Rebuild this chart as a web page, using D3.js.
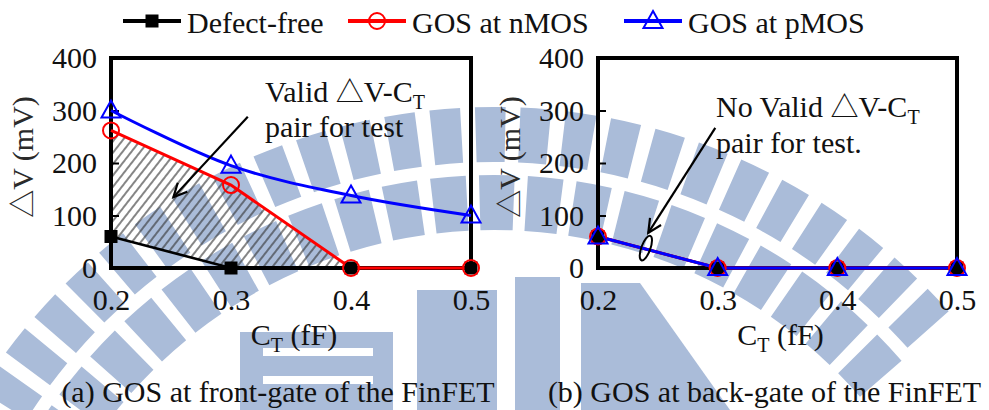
<!DOCTYPE html>
<html>
<head>
<meta charset="utf-8">
<script src="https://cdn.jsdelivr.net/npm/d3@7"></script>
<style>
  body { margin: 0; background: #fff; }
  svg { display: block; }
</style>
</head>
<body>
<svg id="chart" width="989" height="410" font-family="'Liberation Serif', 'DejaVu Serif', serif"></svg>
<script>
// ---- data -------------------------------------------------------------
const categories = [0.2, 0.3, 0.4, 0.5];          // C_T (fF)
const xTickLabels = ["0.2", "0.3", "0.4", "0.5"];
const yTickValues = [0, 100, 200, 300, 400];       // ΔV (mV)

// (a) GOS at the front gate
const frontDefectFree = [60, 0, 0, 0];
const frontNMOS       = [262, 158, 0, 0];
const frontPMOS       = [300, 195, 138, 100];

// (b) GOS at the back gate
const backDefectFree = [60, 0, 0, 0];
const backNMOS       = [60, 0, 0, 0];
const backPMOS       = [60, 0, 0, 0];

const seriesNames = ["Defect-free", "GOS at nMOS", "GOS at pMOS"];
const captions = ["(a) GOS at front-gate of the FinFET", "(b) GOS at back-gate of the FinFET"];

// ---- setup ------------------------------------------------------------
const FONT = "'Liberation Serif', 'DejaVu Serif', serif";
const TRI_FONT = "'Noto Sans CJK SC', 'DejaVu Sans', sans-serif";
const svg = d3.select("#chart");
const W = 989, H = 410;
svg.append("rect").attr("width", W).attr("height", H).attr("fill", "#fff");

const styles = [
  { color: "#000000", marker: "square",   width: 2.6 },
  { color: "#ff0000", marker: "circle",   width: 3 },
  { color: "#0000ff", marker: "triangle", width: 3 }
];

const defs = svg.append("defs");
const hatch = defs.append("pattern")
  .attr("id", "hatch").attr("patternUnits", "userSpaceOnUse")
  .attr("width", 7).attr("height", 7)
  .attr("patternTransform", "rotate(38)");
hatch.append("line").attr("x1", 1).attr("y1", 0).attr("x2", 1).attr("y2", 7)
  .attr("stroke", "#333").attr("stroke-width", 1.2);

// ---- background emblem ------------------------------------------------
const wmColor = "#aabcd9";
const wm = svg.append("g").attr("fill", wmColor).attr("transform", "translate(494,715)");
const arc = d3.arc();
const deg = Math.PI / 180;
for (let a = -62; a < 46; a += 4.3) {
  wm.append("path").attr("d", arc({ innerRadius: 553, outerRadius: 608, startAngle: a * deg, endAngle: (a + 2.9) * deg }));
}
for (let a = -64; a < 50; a += 5.2) {
  wm.append("path").attr("d", arc({ innerRadius: 485, outerRadius: 540, startAngle: a * deg, endAngle: (a + 3.8) * deg }));
}
const wm2 = svg.append("g").attr("fill", wmColor);
wm2.append("rect").attr("x", 240).attr("y", 332).attr("width", 153).attr("height", 78);
wm2.append("rect").attr("x", 263).attr("y", 348).attr("width", 110).attr("height", 8).attr("fill", "#fff");
wm2.append("rect").attr("x", 263).attr("y", 376).attr("width", 110).attr("height", 8).attr("fill", "#fff");
wm2.append("rect").attr("x", 417).attr("y", 290).attr("width", 80).attr("height", 120);
wm2.append("rect").attr("x", 515).attr("y", 277).attr("width", 45).attr("height", 133);
wm2.append("path").attr("d", "M581,283L640,283L730,410L581,410Z");

// ---- helpers ----------------------------------------------------------
function drawMarker(g, kind, color, cx, cy) {
  if (kind === "square") {
    g.append("rect").attr("x", cx - 6.5).attr("y", cy - 6.5).attr("width", 13).attr("height", 13)
      .attr("fill", color);
  } else if (kind === "circle") {
    g.append("circle").attr("cx", cx).attr("cy", cy).attr("r", 8)
      .attr("fill", "none").attr("stroke", color).attr("stroke-width", 2);
  } else {
    g.append("path").attr("d", `M${cx},${cy - 10}L${cx + 9.5},${cy + 7}L${cx - 9.5},${cy + 7}Z`)
      .attr("fill", "none").attr("stroke", color).attr("stroke-width", 2);
  }
}

function label(g, x, y, size) {
  return g.append("text").attr("x", x).attr("y", y)
    .attr("font-family", FONT).attr("font-size", size || 30).attr("fill", "#111");
}

// text with a "△" glyph drawn from a font that carries a full-width triangle
function triText(sel, before, after) {
  if (before) sel.append("tspan").text(before);
  sel.append("tspan").attr("font-family", TRI_FONT).attr("font-size", 28).text("\u25B3");
  sel.append("tspan").text(after);
}

function subText(sel, sub, tail) {
  sel.append("tspan").attr("font-size", 20).attr("dy", 7).text(sub);
  if (tail) sel.append("tspan").attr("dy", -7).text(tail);
}

function arrow(g, x1, y1, x2, y2) {
  g.append("line").attr("x1", x1).attr("y1", y1).attr("x2", x2).attr("y2", y2)
    .attr("stroke", "#000").attr("stroke-width", 2.2);
  const ang = Math.atan2(y2 - y1, x2 - x1), L = 15, s = 0.45;
  const p1 = [x2 - L * Math.cos(ang - s), y2 - L * Math.sin(ang - s)];
  const p2 = [x2 - L * Math.cos(ang + s), y2 - L * Math.sin(ang + s)];
  g.append("path").attr("d", `M${p1}L${x2},${y2}L${p2}`)
    .attr("fill", "none").attr("stroke", "#000").attr("stroke-width", 2.2);
}

// ---- panels -----------------------------------------------------------
const panels = [
  { left: 111, right: 471, data: [frontDefectFree, frontNMOS, frontPMOS], smooth: [false, false, true], caption: captions[0] },
  { left: 598, right: 957, data: [backDefectFree, backNMOS, backPMOS], smooth: [false, false, false], caption: captions[1] }
];
const plotTop = 58, plotBottom = 268;

panels.forEach((p, pi) => {
  const x = d3.scaleLinear().domain([0.2, 0.5]).range([p.left, p.right]);
  const y = d3.scaleLinear().domain([0, 400]).range([plotBottom, plotTop]);
  const g = svg.append("g");

  // valid (ΔV, C_T) region between the defect-free and nMOS curves
  if (pi === 0) {
    const lastIdx = p.data[1].indexOf(0);
    const idx = d3.range(0, lastIdx + 1);
    const area = d3.area()
      .x(i => x(categories[i]))
      .y0(i => y(p.data[0][i]))
      .y1(i => y(p.data[1][i]));
    g.append("path").attr("d", area(idx)).attr("fill", "url(#hatch)");
  }

  // frame
  g.append("rect").attr("x", p.left).attr("y", plotTop)
    .attr("width", p.right - p.left).attr("height", plotBottom - plotTop)
    .attr("fill", "none").attr("stroke", "#000").attr("stroke-width", 4);

  // y axis
  const yAxis = d3.axisLeft(y).tickValues(yTickValues).tickFormat(d3.format("d"))
    .tickSizeInner(-8).tickSizeOuter(0).tickPadding(14);
  const ya = g.append("g").attr("transform", `translate(${p.left},0)`).call(yAxis)
    .attr("font-family", FONT).attr("font-size", 30);
  ya.select(".domain").remove();
  ya.selectAll(".tick line").attr("stroke", "#000").attr("stroke-width", 2);
  ya.selectAll(".tick text").attr("fill", "#111");

  // x axis labels
  const xAxis = d3.axisBottom(x).tickValues(categories).tickFormat((d, i) => xTickLabels[i])
    .tickSize(0).tickPadding(21);
  const xa = g.append("g").attr("transform", `translate(0,${plotBottom})`).call(xAxis)
    .attr("font-family", FONT).attr("font-size", 30);
  xa.select(".domain").remove();
  xa.selectAll(".tick text").attr("fill", "#111");

  // axis titles
  const xt = label(g, (p.left + p.right) / 2 + 3, 345).attr("text-anchor", "middle");
  xt.append("tspan").text("C");
  subText(xt, "T", " (fF)");
  const yt = label(g, 0, 0).attr("transform", `translate(${p.left - 78},157) rotate(-90)`)
    .attr("text-anchor", "middle").attr("fill", "#2a2a2a");
  triText(yt, "", "V (mV)");

  // series lines
  p.data.forEach((vals, si) => {
    const line = d3.line()
      .x((d, i) => x(categories[i])).y(d => y(d))
      .curve(p.smooth[si] ? d3.curveCatmullRom.alpha(0.5) : d3.curveLinear);
    g.append("path").attr("d", line(vals)).attr("fill", "none")
      .attr("stroke", styles[si].color).attr("stroke-width", styles[si].width);
  });
  // series markers
  p.data.forEach((vals, si) => {
    vals.forEach((v, i) => drawMarker(g, styles[si].marker, styles[si].color, x(categories[i]), y(v)));
  });

  // caption
  label(g, (p.left + p.right) / 2 - 13, 402).attr("text-anchor", "middle").text(p.caption);

  // annotations
  if (pi === 0) {
    const t1 = label(g, x(0.3283), y(316));
    triText(t1, "Valid ", "V-C");
    subText(t1, "T");
    label(g, x(0.3283), y(250)).text("pair for test");
    arrow(g, x(0.314), y(288), x(0.252), y(135));
  } else {
    const t1 = label(g, x(0.2986), y(288));
    triText(t1, "No Valid ", "V-C");
    subText(t1, "T");
    label(g, x(0.2986), y(219)).text("pair for test.");
    arrow(g, x(0.298), y(267), x(0.242), y(67));
    g.append("ellipse").attr("transform", `translate(${x(0.240)},${y(38)}) rotate(20)`)
      .attr("rx", 4.5).attr("ry", 13).attr("fill", "none").attr("stroke", "#000").attr("stroke-width", 2);
  }
});

// ---- legend -----------------------------------------------------------
const legendX = [123, 348, 624];
const legend = svg.append("g");
seriesNames.forEach((name, i) => {
  const lx = legendX[i];
  legend.append("line").attr("x1", lx).attr("x2", lx + 58).attr("y1", 21).attr("y2", 21)
    .attr("stroke", styles[i].color).attr("stroke-width", 4);
  drawMarker(legend, styles[i].marker, styles[i].color, lx + 29, 21);
  label(legend, lx + 64, 33).text(name);
});
</script>
</body>
</html>
